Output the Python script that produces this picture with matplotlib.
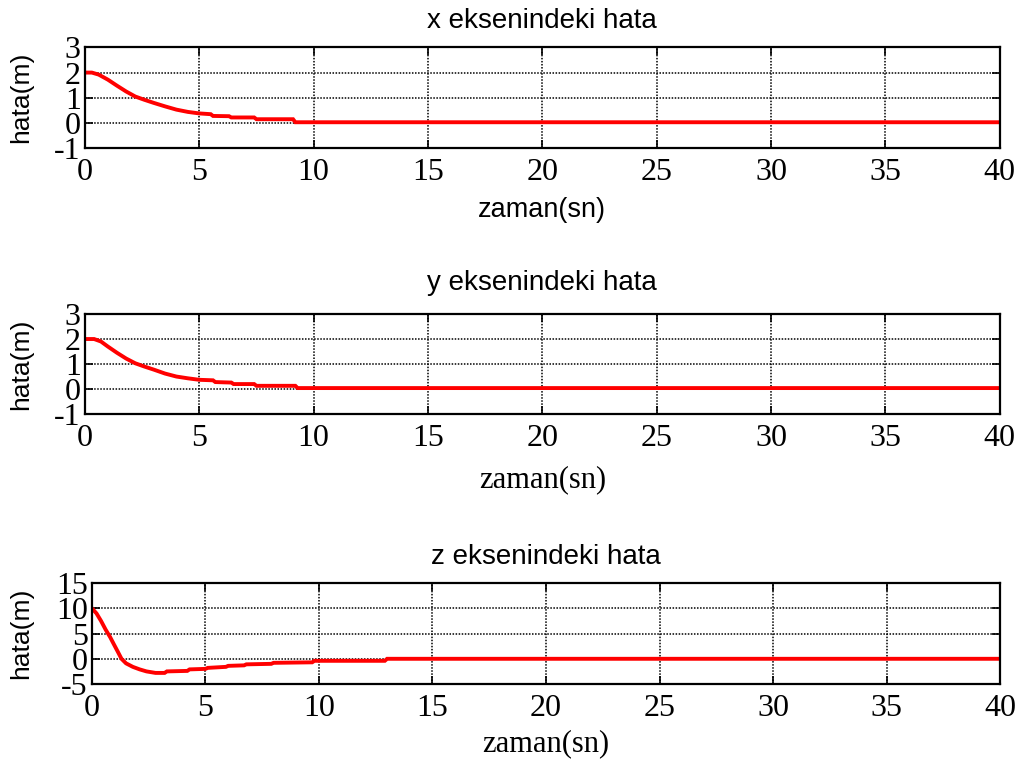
import matplotlib
matplotlib.use('Agg')
import matplotlib.pyplot as plt

plt.rcParams['axes.unicode_minus'] = False

# error curves (time in s, error in m)
t_x = [0, 0.3, 0.6, 1.0, 1.4, 1.8, 2.2, 2.6, 3.0, 3.5, 4.0, 4.5, 5.0, 5.5, 5.6, 6.3, 6.4, 7.4, 7.5, 9.1, 9.2, 40]
e_x = [2.0, 2.0, 1.92, 1.72, 1.48, 1.25, 1.05, 0.92, 0.80, 0.66, 0.53, 0.44, 0.38, 0.35, 0.28, 0.27, 0.22, 0.22, 0.15, 0.15, 0.03, 0.03]

t_y = [0, 0.4, 0.7, 1.0, 1.4, 1.8, 2.2, 2.6, 3.0, 3.5, 4.0, 4.5, 5.0, 5.6, 5.7, 6.4, 6.5, 7.4, 7.5, 9.2, 9.3, 40]
e_y = [2.0, 2.0, 1.9, 1.7, 1.45, 1.22, 1.03, 0.9, 0.78, 0.62, 0.5, 0.43, 0.37, 0.35, 0.28, 0.26, 0.2, 0.2, 0.13, 0.13, 0.04, 0.04]

t_z = [0, 0.2, 0.4, 0.6, 0.8, 0.95, 1.15, 1.3, 1.5, 1.8, 2.1, 2.4, 2.8, 3.2, 3.3, 4.2, 4.3, 5.0, 5.1,
       5.9, 6.0, 6.7, 6.8, 7.9, 8.0, 9.7, 9.8, 12.9, 13.0, 40]
e_z = [10, 9.0, 7.5, 5.8, 4.3, 3.0, 1.3, 0.0, -0.9, -1.6, -2.1, -2.5, -2.8, -2.8, -2.5, -2.4, -2.1, -2.0, -1.8,
       -1.6, -1.4, -1.3, -1.1, -1.0, -0.8, -0.7, -0.4, -0.4, 0.0, 0.0]

titles = ['x eksenindeki hata', 'y eksenindeki hata', 'z eksenindeki hata']
y_ticks = [[-1, 0, 1, 2, 3], [-1, 0, 1, 2, 3], [-5, 0, 5, 10, 15]]
x_ticks = [0, 5, 10, 15, 20, 25, 30, 35, 40]

sans = 'Liberation Sans'
serif = 'Liberation Serif'

fig = plt.figure(figsize=(10.3, 7.64), dpi=100)
positions = [[0.0825, 0.806, 0.888, 0.132],
             [0.0825, 0.458, 0.888, 0.131],
             [0.0893, 0.1047, 0.8816, 0.132]]
ylabel_x = [-0.057, -0.057, -0.065]
series = [(t_x, e_x), (t_y, e_y), (t_z, e_z)]
# first panel labels its x axis in sans, the other two in serif
xlabel_fonts = [(sans, 19.5, 7), (serif, 22, 9), (serif, 22, 5)]
title_pads = [14, 17, 14]

for i, pos in enumerate(positions):
    ax = fig.add_axes(pos)
    t, e = series[i]
    ax.plot(t, e, color='red', lw=2.8, solid_joinstyle='miter')
    ax.set_xlim(0, 40)
    ax.set_ylim(y_ticks[i][0], y_ticks[i][-1])
    ax.set_xticks(x_ticks)
    ax.set_yticks(y_ticks[i])
    ax.grid(True, color='black', linestyle=(0, (1, 1)), linewidth=1.1)
    for s in ax.spines.values():
        s.set_linewidth(1.6)
    ax.tick_params(direction='in', top=True, right=True, length=6, width=1.2)
    ax.tick_params(axis='x', pad=7)
    ax.tick_params(axis='y', pad=3)
    for lab in ax.get_xticklabels() + ax.get_yticklabels():
        lab.set_fontfamily(serif)
        lab.set_fontsize(23)
    ax.set_title(titles[i], fontfamily=sans, fontsize=20, pad=title_pads[i])
    ax.set_ylabel('hata(m)', fontfamily=sans, fontsize=19)
    ax.yaxis.set_label_coords(ylabel_x[i], 0.5)
    ax.set_xlabel('zaman(sn)', fontfamily=xlabel_fonts[i][0], fontsize=xlabel_fonts[i][1],
                  labelpad=xlabel_fonts[i][2])

fig.savefig('out.png', dpi=100)
